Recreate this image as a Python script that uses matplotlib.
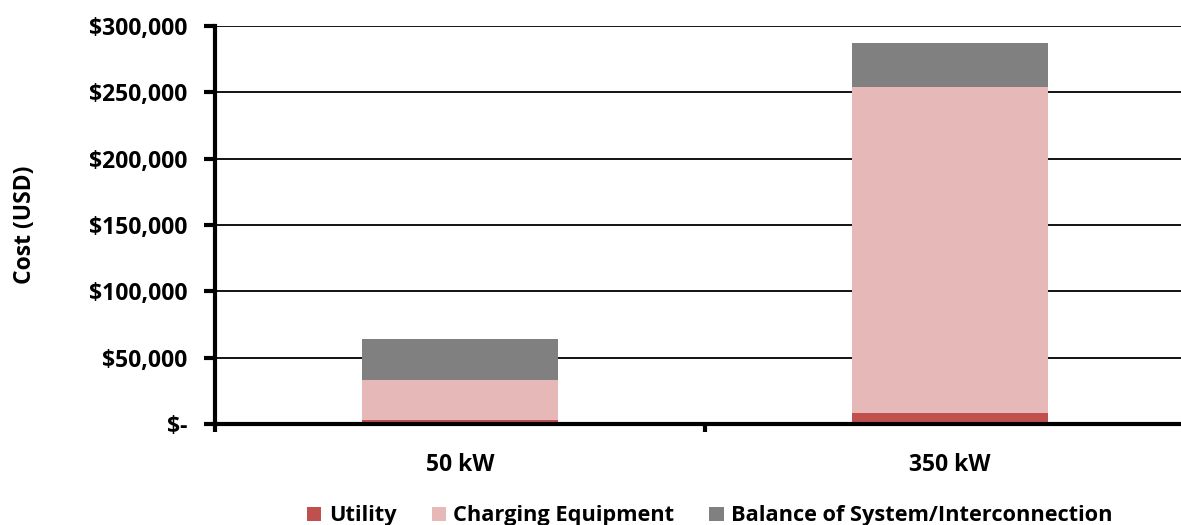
import matplotlib.pyplot as plt
from matplotlib.ticker import FuncFormatter

# --- data ---
categories = ["50 kW", "350 kW"]
utility = [3000, 8000]
charging = [30000, 246000]
balance = [31000, 33000]
series_names = ["Utility", "Charging Equipment", "Balance of System/Interconnection"]
colors = ["#c0504d", "#e6b8b7", "#808080"]

plt.rcParams["font.family"] = ["Open Sans", "DejaVu Sans"]
plt.rcParams["font.weight"] = "bold"
FS = 16.5
LEG_FS = 15.7

W, H = 1181, 525
fig = plt.figure(figsize=(W / 100, H / 100), dpi=100)
# axes spans past the right edge of the image, like the source
ax = fig.add_axes([215 / W, 1 - 424 / H, (1195 - 215) / W, (424 - 26) / H])

x = [0.5, 1.5]
bw = 0.4
bottom2 = [u + c for u, c in zip(utility, charging)]
ax.bar(x, utility, bw, color=colors[0], label=series_names[0], zorder=3)
ax.bar(x, charging, bw, bottom=utility, color=colors[1], label=series_names[1], zorder=3)
ax.bar(x, balance, bw, bottom=bottom2, color=colors[2], label=series_names[2], zorder=3)

ax.set_xlim(0, 2)
ax.set_ylim(0, 300000)
ax.set_yticks(range(0, 300001, 50000))
ax.yaxis.set_major_formatter(FuncFormatter(lambda v, p: "$-" if v == 0 else f"${v:,.0f}"))
ax.grid(axis="y", color="black", linewidth=1.3, zorder=0)
for lab in ax.get_yticklabels():
    lab.set_fontweight("bold")

ax.set_xticks([0, 1, 2])
ax.set_xticklabels([])
ax.set_xticks(x, minor=True)
ax.set_xticklabels(categories, minor=True, fontweight="bold")
ax.tick_params(axis="x", which="minor", length=0, pad=21, labelsize=FS)
ax.tick_params(axis="x", which="major", length=6, width=3, direction="out")
ax.tick_params(axis="y", length=8, width=3, direction="out", labelsize=FS, pad=12)

for s in ["top", "right"]:
    ax.spines[s].set_visible(False)
ax.spines["left"].set_linewidth(3)
ax.spines["bottom"].set_linewidth(3)
ax.spines["left"].set_zorder(4)
ax.spines["bottom"].set_zorder(4)

fig.text(25 / W, 1 - 225 / H, "Cost (USD)", rotation=90, ha="center", va="center",
         fontsize=FS, fontweight="bold")

fig.legend(loc="center", bbox_to_anchor=(710 / W, 1 - 516 / H), ncol=3, frameon=False,
           prop={"size": LEG_FS, "weight": "bold"}, handlelength=0.65, handleheight=0.65,
           columnspacing=1.6, handletextpad=0.35, borderpad=0)

fig.savefig("out.png", dpi=100)
